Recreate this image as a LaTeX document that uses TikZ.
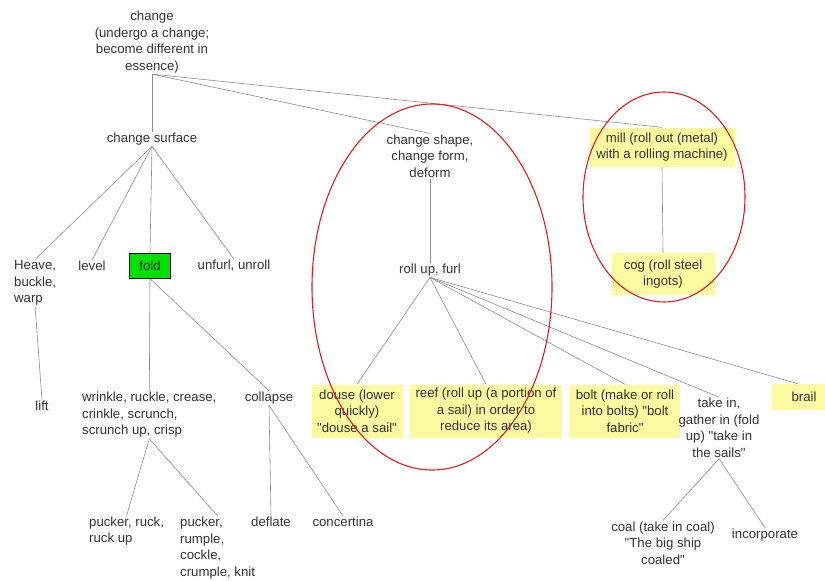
\documentclass[tikz,border=0pt]{standalone}
\usepackage{fontspec}
\setmainfont{Liberation Sans}[Ligatures=TeXOff]
\definecolor{hilite}{RGB}{252,250,160}
\definecolor{foldgreen}{RGB}{0,225,0}
\definecolor{inkgray}{RGB}{50,50,50}
\definecolor{linegray}{RGB}{140,140,140}
\definecolor{ringred}{RGB}{225,30,30}
\begin{document}
\begin{tikzpicture}[x=1pt, y=-1pt,
  font=\fontsize{13.2}{16.5}\selectfont, text=inkgray,
  word/.style={inner sep=1pt, align=center},
  lword/.style={inner sep=1pt, align=left, anchor=west},
  marked/.style={word, fill=hilite, inner sep=0pt},
  link/.style={draw=linegray, line width=0.6pt},
  ring/.style={draw=ringred, line width=1.1pt}]
\useasboundingbox (0,0) rectangle (825,581);

\node [word] (change) at (152,42) {change\\(undergo a change;\\become different in\\essence)};
\node [word] (surface) at (152,139) {change surface};
\node [word] (shape) at (430,156) {change shape,\\change form,\\deform};
\node [marked, minimum width=145, minimum height=39] (mill) at (662,147) {mill (roll out (metal)\\with a rolling machine)};

\node [lword] (heave) at (13,283) {Heave,\\buckle,\\warp};
\node [word] (level) at (92,266) {level};
\node [word, draw=black, fill=foldgreen, minimum width=41, minimum height=25] (fold) at (150,266) {fold};
\node [word] (unfurl) at (234,266) {unfurl, unroll};
\node [word] (roll) at (430,270) {roll up, furl};
\node [marked, minimum width=103, minimum height=42] (cog) at (663,274) {cog (roll steel\\ingots)};

\node [word] (lift) at (42,406) {lift};
\node [lword] (wrinkle) at (81,415) {wrinkle, ruckle, crease,\\crinkle, scrunch,\\scrunch up, crisp};
\node [word] (collapse) at (269,398) {collapse};
\node [marked, minimum width=91, minimum height=53] (douse) at (357,411) {douse (lower\\quickly)\\"douse a sail"};
\node [marked, minimum width=152, minimum height=53] (reef) at (486,411) {reef (roll up (a portion of\\a sail) in order to\\reduce its area)};
\node [marked, minimum width=110, minimum height=53] (bolt) at (625,411) {bolt (make or roll\\into bolts) "bolt\\fabric"};
\node [word] (takein) at (719,428) {take in,\\gather in (fold\\up) "take in\\the sails"};
\node [marked, minimum width=53, minimum height=26] (brail) at (798,397) {\hspace*{12pt}brail};

\node [lword] (ruck) at (88,531) {pucker, ruck,\\ruck up};
\node [lword] (rumple) at (179,548) {pucker,\\rumple,\\cockle,\\crumple, knit};
\node [word] (deflate) at (271,522) {deflate};
\node [word] (concertina) at (343,522) {concertina};
\node [word] (coal) at (663,543) {coal (take in coal)\\"The big ship\\coaled"};
\node [word] (incorporate) at (765,535) {incorporate};

\draw [link] (change.south) -- (surface.north);
\draw [link] (change.south) -- (shape.north);
\draw [link] (change.south) -- (mill.north);
\draw [link] (surface.south) -- (heave.north);
\draw [link] (surface.south) -- (level.north);
\draw [link] (surface.south) -- (fold.north);
\draw [link] (surface.south) -- (unfurl.north);
\draw [link] (heave.south) -- (lift.north);
\draw [link] (fold.south) -- (wrinkle.north);
\draw [link] (fold.south) -- (collapse.north);
\draw [link] (wrinkle.south) -- (ruck.north);
\draw [link] (wrinkle.south) -- (rumple.north);
\draw [link] (collapse.south) -- (deflate.north);
\draw [link] (collapse.south) -- (concertina.north);
\draw [link] (shape.south) -- (roll.north);
\draw [link] (roll.south) -- (douse.north);
\draw [link] (roll.south) -- (reef.north);
\draw [link] (roll.south) -- (bolt.north);
\draw [link] (roll.south) -- (takein.north);
\draw [link] (roll.south) -- (brail.north);
\draw [link] (mill.south) -- (cog.north);
\draw [link] (takein.south) -- (coal.north);
\draw [link] (takein.south) -- (incorporate.north);

\draw [ring] (432,287) ellipse [x radius=120pt, y radius=183pt];
\draw [ring] (664,197) ellipse [x radius=81pt, y radius=105pt];
\end{tikzpicture}
\end{document}
